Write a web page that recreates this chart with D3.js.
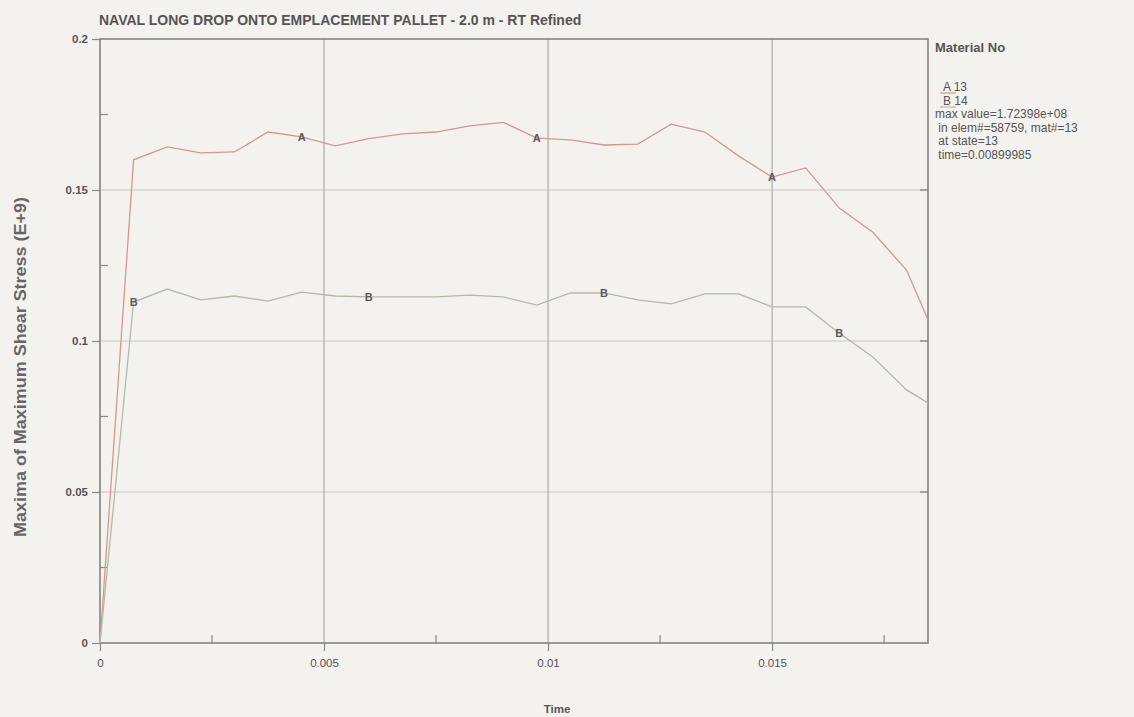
<!DOCTYPE html>
<html>
<head>
<meta charset="utf-8">
<script src="https://cdn.jsdelivr.net/npm/d3@7/dist/d3.min.js"></script>
<style>
  body { margin: 0; background: #f4f2ee; }
  svg { display: block; font-family: 'Liberation Sans', Arial, sans-serif; }
</style>
</head>
<body>
<svg id="chart" width="1134" height="717"></svg>
<script>
// time of each state (s)
const times = [
  0, 0.00075, 0.0015, 0.00225, 0.003, 0.00375, 0.0045, 0.00525, 0.006,
  0.00675, 0.0075, 0.00825, 0.009, 0.00975, 0.0105, 0.01125, 0.012,
  0.01275, 0.0135, 0.01425, 0.015, 0.01575, 0.0165, 0.01725, 0.018, 0.01848,
];
// material 13 (A) and 14 (B), max shear stress in E+9
const matA = [
  0, 0.160, 0.1643, 0.1623, 0.1626, 0.1692, 0.1676, 0.1646, 0.1670, 0.1686,
  0.1692, 0.1712, 0.1724, 0.1672, 0.1666, 0.1649, 0.1652, 0.1718, 0.1692,
  0.1613, 0.1543, 0.1573, 0.1440, 0.1360, 0.1235, 0.1070,
];
const matB = [
  0, 0.1129, 0.1172, 0.1136, 0.1149, 0.1132, 0.1162, 0.1149, 0.1146, 0.1146,
  0.1146, 0.1152, 0.1146, 0.1119, 0.1159, 0.1159, 0.1136, 0.1123, 0.1156,
  0.1156, 0.1113, 0.1113, 0.1026, 0.0947, 0.0838, 0.0795,
];
const xTicks = [0, 0.005, 0.01, 0.015];
const xMinor = [0.0025, 0.0075, 0.0125, 0.0175];
const yTicks = [0, 0.05, 0.1, 0.15, 0.2];
const yMinor = [0.025, 0.075, 0.125, 0.175];
const legendRows = [
  'max value=1.72398e+08',
  ' in elem#=58759, mat#=13',
  ' at state=13',
  ' time=0.00899985',
];

const series = [
  { name: 'A', mat: '13', values: matA, color: '#d6968c', labelAt: [6, 13, 20] },
  { name: 'B', mat: '14', values: matB, color: '#b1bba8', labelAt: [1, 8, 15, 22] },
];

const svg = d3.select('#chart');
const m = { left: 100, right: 928, top: 39, bottom: 643 };

const x = d3.scaleLinear().domain([0, d3.max(times)]).range([m.left, m.right]);
const y = d3.scaleLinear().domain([0, 0.2]).range([m.bottom, m.top]);

svg.append('rect').attr('width', 1134).attr('height', 717).attr('fill', '#f4f2ee');

// grid
svg.append('g')
  .selectAll('line')
  .data(yTicks.slice(1, -1))
  .join('line')
  .attr('x1', m.left).attr('x2', m.right)
  .attr('y1', d => y(d)).attr('y2', d => y(d))
  .attr('stroke', '#c9c6c0').attr('stroke-width', 1.2);
svg.append('g')
  .selectAll('line')
  .data(xTicks.slice(1))
  .join('line')
  .attr('x1', d => x(d)).attr('x2', d => x(d))
  .attr('y1', m.top).attr('y2', m.bottom)
  .attr('stroke', '#aeaba5').attr('stroke-width', 1.2);

// axes
const fmt = d => (d === 0 ? '0' : String(d));
const xAxis = svg.append('g')
  .attr('transform', `translate(0,${m.bottom})`)
  .call(d3.axisBottom(x).tickValues(xTicks).tickFormat(fmt).tickSize(8).tickPadding(8));
const yAxis = svg.append('g')
  .attr('transform', `translate(${m.left},0)`)
  .call(d3.axisLeft(y).tickValues(yTicks).tickFormat(fmt).tickSize(8).tickPadding(4));
[xAxis, yAxis].forEach(a => {
  a.select('.domain').remove();
  a.selectAll('line').attr('stroke', '#8a8884').attr('stroke-width', 1.2);
  a.selectAll('text')
    .attr('fill', '#555')
    .attr('font-size', 11.5)
    .attr('font-family', "'Liberation Sans Narrow', 'Liberation Sans', sans-serif");
});
yAxis.selectAll('text').attr('font-weight', 'bold').attr('font-family', "'Liberation Sans', sans-serif");

// minor ticks (inside)
svg.append('g')
  .selectAll('line')
  .data(xMinor)
  .join('line')
  .attr('x1', d => x(d)).attr('x2', d => x(d))
  .attr('y1', m.bottom).attr('y2', m.bottom - 8)
  .attr('stroke', '#8a8884').attr('stroke-width', 1.2);
svg.append('g')
  .selectAll('line')
  .data(yMinor)
  .join('line')
  .attr('x1', m.left).attr('x2', m.left + 8)
  .attr('y1', d => y(d)).attr('y2', d => y(d))
  .attr('stroke', '#8a8884').attr('stroke-width', 1.2);
svg.append('g')
  .selectAll('line')
  .data(yTicks.slice(1, -1))
  .join('line')
  .attr('x1', m.right - 8).attr('x2', m.right)
  .attr('y1', d => y(d)).attr('y2', d => y(d))
  .attr('stroke', '#8a8884').attr('stroke-width', 1.4);

// frame
svg.append('rect')
  .attr('x', m.left).attr('y', m.top)
  .attr('width', m.right - m.left).attr('height', m.bottom - m.top)
  .attr('fill', 'none').attr('stroke', '#85837f').attr('stroke-width', 1.6);

// curves
const line = d3.line().x((d, i) => x(times[i])).y(d => y(d));
series.forEach(s => {
  svg.append('path')
    .datum(s.values)
    .attr('d', line)
    .attr('fill', 'none')
    .attr('stroke', s.color)
    .attr('stroke-width', 1.3);
  svg.append('g')
    .selectAll('text')
    .data(s.labelAt)
    .join('text')
    .attr('x', i => x(times[i]))
    .attr('y', i => y(s.values[i]) + 4)
    .attr('text-anchor', 'middle')
    .attr('font-size', 11)
    .attr('font-weight', 'bold')
    .attr('fill', '#5a5a5a')
    .text(s.name);
});

// titles
svg.append('text')
  .attr('x', 99).attr('y', 25)
  .attr('font-size', 14).attr('font-weight', 'bold').attr('fill', '#555')
  .text('NAVAL LONG DROP ONTO EMPLACEMENT PALLET - 2.0 m - RT Refined');
svg.append('text')
  .attr('transform', 'translate(26,367) rotate(-90)')
  .attr('text-anchor', 'middle')
  .attr('font-size', 16).attr('font-weight', 'bold').attr('fill', '#666')
  .attr('textLength', 340).attr('lengthAdjust', 'spacingAndGlyphs')
  .text('Maxima of Maximum Shear Stress (E+9)');
svg.append('text')
  .attr('x', 557).attr('y', 713)
  .attr('text-anchor', 'middle')
  .attr('font-size', 11.5).attr('font-weight', 'bold').attr('fill', '#555')
  .text('Time');

// legend
const lg = svg.append('g').attr('font-size', 12).attr('fill', '#555');
lg.append('text').attr('x', 935).attr('y', 52)
  .attr('font-size', 13).attr('font-weight', 'bold').text('Material No');
series.forEach((s, i) => {
  const by = 91 + i * 14;
  lg.append('line')
    .attr('x1', 940).attr('x2', 956)
    .attr('y1', by + 2).attr('y2', by + 2)
    .attr('stroke', s.color).attr('stroke-width', 1.2);
  lg.append('text').attr('x', 943).attr('y', by).text(`${s.name} ${s.mat}`);
});
legendRows.forEach((r, i) => {
  lg.append('text')
    .attr('x', 935).attr('y', 118 + i * 13.6)
    .attr('xml:space', 'preserve')
    .text(r);
});
</script>
</body>
</html>
